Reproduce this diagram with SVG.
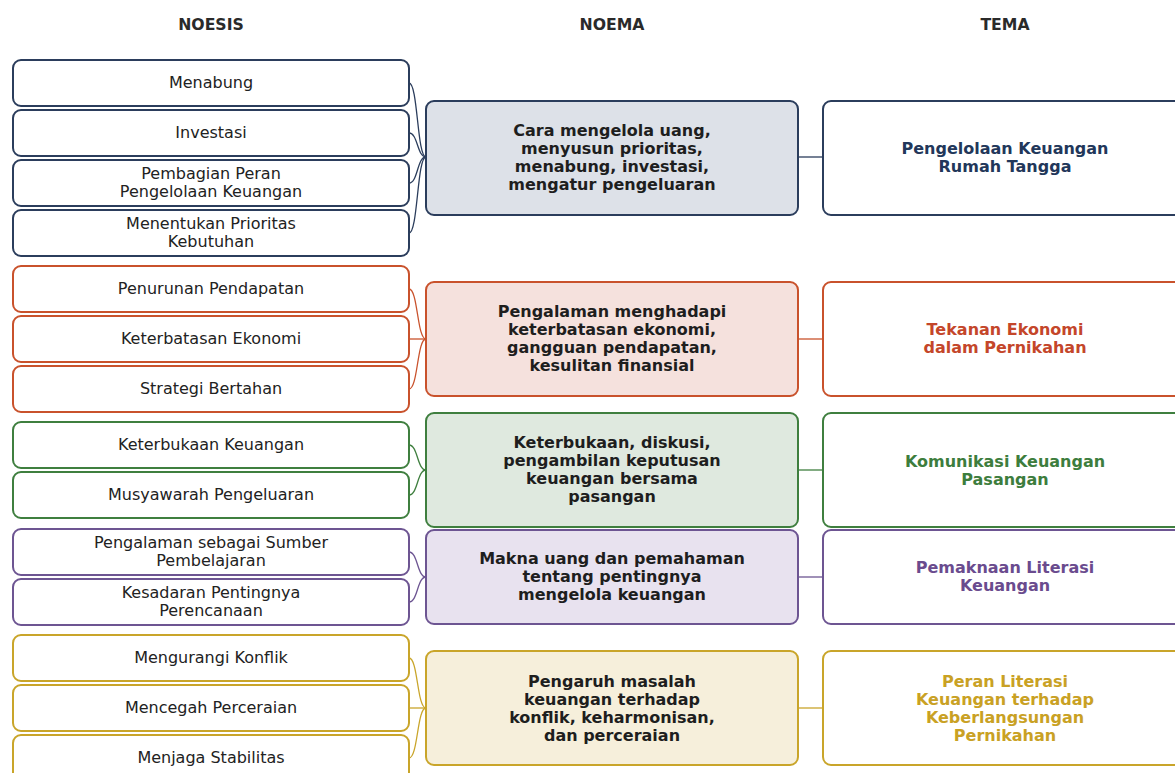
<svg xmlns="http://www.w3.org/2000/svg" width="1175" height="773" viewBox="0 0 1175 773">
<style>
text{font-family:"DejaVu Sans","Verdana",sans-serif;text-anchor:middle;dominant-baseline:central}
.h{font-size:15.7px;font-weight:bold;fill:#2a2a2a}
.n{font-size:16px;fill:#222}
.m{font-size:16px;font-weight:bold;fill:#1e1e1e}
.t{font-size:16px;font-weight:bold}
rect{stroke-width:2}
.box{fill:#fff}
.c path{fill:none;stroke-width:1.3}
.b{stroke:#2b3d5c}.r{stroke:#c9522c}.g{stroke:#3f7f3f}.p{stroke:#6d5592}.y{stroke:#c9a52a}
</style>
<rect width="1175" height="773" fill="#fff"/>
<text class="h" x="211" y="24">NOESIS</text>
<text class="h" x="612" y="24">NOEMA</text>
<text class="h" x="1005" y="24">TEMA</text>

<g id="connectors" class="c">
<path class="b" d="M409 83C418 83 417 157 426 157"/>
<path class="b" d="M409 133C418 133 417 157 426 157"/>
<path class="b" d="M409 183C418 183 417 157 426 157"/>
<path class="b" d="M409 233C418 233 417 157 426 157"/>
<path class="b" d="M798 157H823"/>
<path class="r" d="M409 289C418 289 417 339 426 339"/>
<path class="r" d="M409 339H426"/>
<path class="r" d="M409 389C418 389 417 339 426 339"/>
<path class="r" d="M798 339H823"/>
<path class="g" d="M409 445C418 445 417 470 426 470"/>
<path class="g" d="M409 495C418 495 417 470 426 470"/>
<path class="g" d="M798 470H823"/>
<path class="p" d="M409 552C418 552 417 577 426 577"/>
<path class="p" d="M409 602C418 602 417 577 426 577"/>
<path class="p" d="M798 577H823"/>
<path class="y" d="M409 658C418 658 417 708 426 708"/>
<path class="y" d="M409 708H426"/>
<path class="y" d="M409 758C418 758 417 708 426 708"/>
<path class="y" d="M798 708H823"/>
</g>

<g id="n-menabung"><rect class="box b" x="13" y="60" width="396" height="46" rx="8"/><text class="n" x="211" y="82">Menabung</text></g>
<g id="n-investasi"><rect class="box b" x="13" y="110" width="396" height="46" rx="8"/><text class="n" x="211" y="132">Investasi</text></g>
<g id="n-pembagian"><rect class="box b" x="13" y="160" width="396" height="46" rx="8"/><text class="n" x="211" y="173">Pembagian Peran</text><text class="n" x="211" y="191">Pengelolaan Keuangan</text></g>
<g id="n-prioritas"><rect class="box b" x="13" y="210" width="396" height="46" rx="8"/><text class="n" x="211" y="223">Menentukan Prioritas</text><text class="n" x="211" y="241">Kebutuhan</text></g>

<g id="n-penurunan"><rect class="box r" x="13" y="266" width="396" height="46" rx="8"/><text class="n" x="211" y="288">Penurunan Pendapatan</text></g>
<g id="n-keterbatasan"><rect class="box r" x="13" y="316" width="396" height="46" rx="8"/><text class="n" x="211" y="338">Keterbatasan Ekonomi</text></g>
<g id="n-strategi"><rect class="box r" x="13" y="366" width="396" height="46" rx="8"/><text class="n" x="211" y="388">Strategi Bertahan</text></g>

<g id="n-keterbukaan"><rect class="box g" x="13" y="422" width="396" height="46" rx="8"/><text class="n" x="211" y="444">Keterbukaan Keuangan</text></g>
<g id="n-musyawarah"><rect class="box g" x="13" y="472" width="396" height="46" rx="8"/><text class="n" x="211" y="494">Musyawarah Pengeluaran</text></g>

<g id="n-pengalaman"><rect class="box p" x="13" y="529" width="396" height="46" rx="8"/><text class="n" x="211" y="542">Pengalaman sebagai Sumber</text><text class="n" x="211" y="560">Pembelajaran</text></g>
<g id="n-kesadaran"><rect class="box p" x="13" y="579" width="396" height="46" rx="8"/><text class="n" x="211" y="592">Kesadaran Pentingnya</text><text class="n" x="211" y="610">Perencanaan</text></g>

<g id="n-konflik"><rect class="box y" x="13" y="635" width="396" height="46" rx="8"/><text class="n" x="211" y="657">Mengurangi Konflik</text></g>
<g id="n-perceraian"><rect class="box y" x="13" y="685" width="396" height="46" rx="8"/><text class="n" x="211" y="707">Mencegah Perceraian</text></g>
<g id="n-stabilitas"><rect class="box y" x="13" y="735" width="396" height="46" rx="8"/><text class="n" x="211" y="757">Menjaga Stabilitas</text></g>

<g id="noema-1"><rect class="b" fill="#dde1e8" x="426" y="101" width="372" height="114" rx="8"/><text class="m" x="612" y="130">Cara mengelola uang,</text><text class="m" x="612" y="148">menyusun prioritas,</text><text class="m" x="612" y="166">menabung, investasi,</text><text class="m" x="612" y="184">mengatur pengeluaran</text></g>
<g id="noema-2"><rect class="r" fill="#f5e1dd" x="426" y="282" width="372" height="114" rx="8"/><text class="m" x="612" y="311">Pengalaman menghadapi</text><text class="m" x="612" y="329">keterbatasan ekonomi,</text><text class="m" x="612" y="347">gangguan pendapatan,</text><text class="m" x="612" y="365">kesulitan finansial</text></g>
<g id="noema-3"><rect class="g" fill="#dfe9df" x="426" y="413" width="372" height="114" rx="8"/><text class="m" x="612" y="442">Keterbukaan, diskusi,</text><text class="m" x="612" y="460">pengambilan keputusan</text><text class="m" x="612" y="478">keuangan bersama</text><text class="m" x="612" y="496">pasangan</text></g>
<g id="noema-4"><rect class="p" fill="#e8e2ef" x="426" y="530" width="372" height="94" rx="8"/><text class="m" x="612" y="558">Makna uang dan pemahaman</text><text class="m" x="612" y="576">tentang pentingnya</text><text class="m" x="612" y="594">mengelola keuangan</text></g>
<g id="noema-5"><rect class="y" fill="#f6efdb" x="426" y="651" width="372" height="114" rx="8"/><text class="m" x="612" y="681">Pengaruh masalah</text><text class="m" x="612" y="699">keuangan terhadap</text><text class="m" x="612" y="717">konflik, keharmonisan,</text><text class="m" x="612" y="735">dan perceraian</text></g>

<g id="tema-1"><rect class="box b" x="823" y="101" width="364" height="114" rx="8"/><text class="t" fill="#22375a" x="1005" y="148">Pengelolaan Keuangan</text><text class="t" fill="#22375a" x="1005" y="166">Rumah Tangga</text></g>
<g id="tema-2"><rect class="box r" x="823" y="282" width="364" height="114" rx="8"/><text class="t" fill="#c4462a" x="1005" y="329">Tekanan Ekonomi</text><text class="t" fill="#c4462a" x="1005" y="347">dalam Pernikahan</text></g>
<g id="tema-3"><rect class="box g" x="823" y="413" width="364" height="114" rx="8"/><text class="t" fill="#3d7d3d" x="1005" y="461">Komunikasi Keuangan</text><text class="t" fill="#3d7d3d" x="1005" y="479">Pasangan</text></g>
<g id="tema-4"><rect class="box p" x="823" y="530" width="364" height="94" rx="8"/><text class="t" fill="#6a4b8e" x="1005" y="567">Pemaknaan Literasi</text><text class="t" fill="#6a4b8e" x="1005" y="585">Keuangan</text></g>
<g id="tema-5"><rect class="box y" x="823" y="651" width="364" height="114" rx="8"/><text class="t" fill="#c9a124" x="1005" y="681">Peran Literasi</text><text class="t" fill="#c9a124" x="1005" y="699">Keuangan terhadap</text><text class="t" fill="#c9a124" x="1005" y="717">Keberlangsungan</text><text class="t" fill="#c9a124" x="1005" y="735">Pernikahan</text></g>
</svg>
